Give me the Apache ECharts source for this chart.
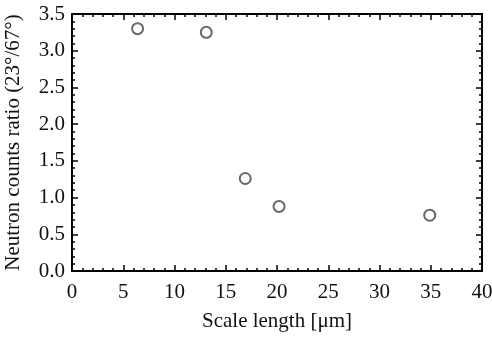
<!DOCTYPE html>
<html><head><meta charset="utf-8">
<script src="https://cdn.jsdelivr.net/npm/echarts@6/dist/echarts.min.js"></script>
<style>html,body{margin:0;padding:0;background:#fff}#c{width:492px;height:337px}</style>
</head><body><div id="c"></div>
<script>
const scaleLength = [6.4, 13.1, 16.9, 20.2, 34.9];
const countsRatio = [3.30, 3.25, 1.26, 0.88, 0.76];
const xName = 'Scale length [μm]';
const yName = 'Neutron counts ratio (23°/67°)';

const font = 'Liberation Serif, Times New Roman, serif';
const axisBase = {
  axisLine: {show: true, onZero: false, lineStyle: {color: '#000', width: 2}},
  axisTick: {show: true, inside: true, length: 6, lineStyle: {color: '#000', width: 1.5}},
  minorTick: {show: true, splitNumber: 5, length: 3, lineStyle: {color: '#000', width: 1.5}},
  splitLine: {show: false}
};
const chart = echarts.init(document.getElementById('c'));
chart.setOption({
  animation: false,
  grid: {left: 72, right: 10, top: 14, bottom: 66, containLabel: false, outerBoundsMode: 'none'},
  xAxis: [
    Object.assign({type: 'value', min: 0, max: 40, interval: 5, position: 'bottom',
      name: xName, nameLocation: 'middle', nameGap: 40,
      nameTextStyle: {fontFamily: font, fontSize: 21, color: '#111'},
      axisLabel: {fontFamily: font, fontSize: 21, color: '#111', margin: 11}}, axisBase),
    Object.assign({type: 'value', min: 0, max: 40, interval: 5, position: 'top',
      axisLabel: {show: false}}, axisBase)
  ],
  yAxis: [
    Object.assign({type: 'value', min: 0, max: 3.5, interval: 0.5, position: 'left',
      name: yName, nameLocation: 'middle', nameGap: 48,
      nameTextStyle: {fontFamily: font, fontSize: 21, color: '#111'},
      axisLabel: {fontFamily: font, fontSize: 21, color: '#111', margin: 7,
        formatter: v => v.toFixed(1)}}, axisBase),
    Object.assign({type: 'value', min: 0, max: 3.5, interval: 0.5, position: 'right',
      axisLabel: {show: false}}, axisBase)
  ],
  series: [{
    type: 'scatter',
    data: scaleLength.map((x, i) => [x, countsRatio[i]]),
    symbol: 'circle', symbolSize: 11,
    itemStyle: {color: '#fff', borderColor: '#444', borderWidth: 2}
  }]
});
</script></body></html>
